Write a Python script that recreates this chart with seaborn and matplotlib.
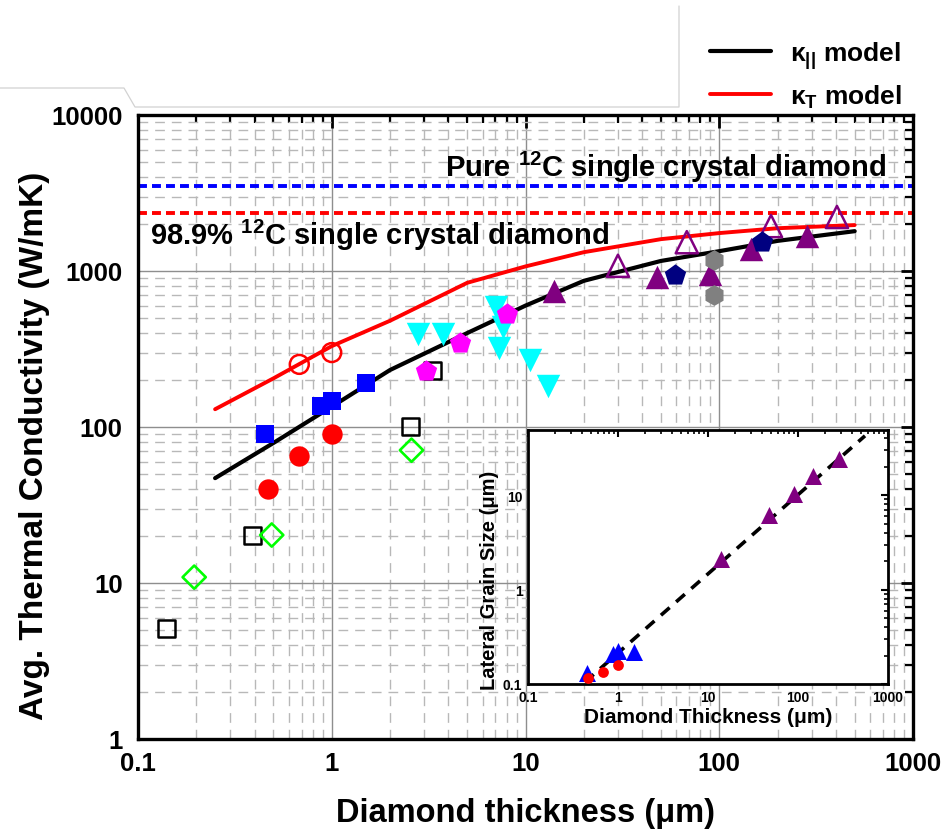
import matplotlib
matplotlib.use("Agg")
import matplotlib.pyplot as plt
from matplotlib.lines import Line2D
from matplotlib.ticker import LogLocator, NullFormatter, FuncFormatter
import seaborn as sns

# ---------------- data ----------------
# model curves: average thermal conductivity vs. diamond thickness
model_thickness = [0.25, 0.5, 1, 2, 5, 10, 20, 50, 100, 200, 500]
kappa_parallel = [47, 79, 135, 232, 400, 600, 865, 1160, 1340, 1560, 1800]
kappa_transverse = [130, 205, 330, 480, 840, 1070, 1320, 1600, 1750, 1880, 1970]

# single crystal reference values (W/mK)
pure_12c_kappa = 3500
natural_12c_kappa = 2350

# measured films
open_square_t = [0.14, 0.39, 2.55, 3.3]
open_square_k = [5.1, 20.3, 101, 230]

open_diamond_t = [0.195, 0.49, 2.58]
open_diamond_k = [10.9, 20.3, 71]

red_filled_t = [0.47, 0.68, 1.0]
red_filled_k = [40, 65, 90]

red_open_t = [0.68, 1.0]
red_open_k = [252, 300]

blue_square_t = [0.45, 0.88, 1.0, 1.5]
blue_square_k = [90, 136, 146, 192]

cyan_t = [2.8, 3.75, 7.06, 7.64, 7.26, 10.5, 13.0]
cyan_k = [395, 394, 588, 436, 320, 268, 184]

magenta_t = [3.08, 4.57, 8.0]
magenta_k = [228, 347, 528]

purple_filled_t = [14, 48, 90, 145, 285]
purple_filled_k = [748, 915, 957, 1384, 1675]

purple_open_t = [30, 68, 185, 405]
purple_open_k = [1080, 1530, 1940, 2220]

navy_t = [59, 167]
navy_k = [942, 1530]

gray_t = [94, 94]
gray_k = [1180, 702]

# inset: lateral grain size vs. thickness
grain_blue = [0.13, 0.21, 0.225, 0.22]
grain_red = [0.115, 0.133, 0.159]
grain_purple = [2.1, 6.1, 10.3, 15.8, 24.4]
fit_thickness = [0.43, 555]
fit_grain = [0.105, 42.5]

x_ticks = [0.1, 1, 10, 100, 1000]
y_ticks = [1, 10, 100, 1000, 10000]
inset_y_ticks = [0.1, 1, 10]

# ---------------- style ----------------
sns.set_theme(style="white")
plt.rcParams["font.family"] = ["Liberation Sans", "DejaVu Sans"]
plt.rcParams["font.weight"] = "bold"
plt.rcParams["axes.labelweight"] = "bold"
plt.rcParams["text.color"] = "black"
plt.rcParams["axes.labelcolor"] = "black"
plt.rcParams["xtick.color"] = "black"
plt.rcParams["ytick.color"] = "black"
plt.rcParams["mathtext.fontset"] = "custom"
plt.rcParams["mathtext.rm"] = "Liberation Sans:bold"
plt.rcParams["mathtext.it"] = "Liberation Sans:bold"
plt.rcParams["mathtext.bf"] = "Liberation Sans:bold"

W, H = 944, 837
fig = plt.figure(figsize=(W / 100, H / 100), dpi=100)
fig.patch.set_facecolor("white")


def fbox(x0, y0, x1, y1):
    return [x0 / W, 1 - y1 / H, (x1 - x0) / W, (y1 - y0) / H]


ax = fig.add_axes(fbox(138, 116, 913, 740))
ax.set_xscale("log")
ax.set_yscale("log")
ax.set_facecolor("white")
ax.set_axisbelow(True)

plain = FuncFormatter(lambda v, _: f"{v:g}")
for axis in (ax.xaxis, ax.yaxis):
    axis.set_minor_locator(LogLocator(base=10, subs=range(2, 10), numticks=20))
    axis.set_major_formatter(plain)
    axis.set_minor_formatter(NullFormatter())
ax.set_xticks(x_ticks)
ax.set_yticks(y_ticks)
ax.set_xlim(0.1, 1000)
ax.set_ylim(1, 10000)

ax.grid(which="major", color="#8e8e8e", lw=1.0, ls="-")
ax.grid(which="minor", color="#b8b8b8", lw=1.0, ls=(0, (7, 5)))

ax.tick_params(which="both", direction="in", top=True, right=True,
               colors="black", labelsize=18.5)
ax.tick_params(which="major", length=9, width=2.0)
ax.tick_params(which="minor", length=5.5, width=1.6)
ax.tick_params(axis="x", pad=9)
ax.tick_params(axis="y", pad=11)
for s in ax.spines.values():
    s.set_linewidth(2.4)
    s.set_color("black")

# reference lines
ax.axhline(pure_12c_kappa, color="#0000ff", lw=2.8, ls=(0, (2.3, 1.3)), zorder=2)
ax.axhline(natural_12c_kappa, color="#ff0000", lw=2.8, ls=(0, (2.3, 1.3)), zorder=2)

# model curves
sns.lineplot(x=model_thickness, y=kappa_transverse, ax=ax, color="#ff0000",
             lw=2.8, label=r"κ$_{T}$ model", legend=False, zorder=2.5)
sns.lineplot(x=model_thickness, y=kappa_parallel, ax=ax, color="black",
             lw=3.0, label=r"κ$_{||}$ model", legend=False, zorder=2.5)


def points(axis, x, y, marker, size, color, filled=True, lw=1.6, z=3):
    if filled:
        sns.scatterplot(x=x, y=y, ax=axis, marker=marker, s=size, color=color,
                        edgecolor=color, linewidth=0, legend=False, zorder=z)
    else:
        sns.scatterplot(x=x, y=y, ax=axis, marker=marker, s=size, color=color,
                        facecolor="none", edgecolor=color, linewidth=lw,
                        legend=False, zorder=z)


points(ax, open_square_t, open_square_k, "s", 150, "black", filled=False, lw=1.8)
points(ax, open_diamond_t, open_diamond_k, "D", 140, "#00ff00", filled=False, lw=1.9)
points(ax, red_filled_t, red_filled_k, "o", 215, "#ff0000")
points(ax, red_open_t, red_open_k, "o", 185, "#ff0000", filled=False, lw=1.8)
points(ax, blue_square_t, blue_square_k, "s", 170, "#0000ff")
points(ax, cyan_t, cyan_k, "v", 285, "#00ffff")
points(ax, magenta_t, magenta_k, "p", 260, "#ff00ff")
points(ax, purple_filled_t, purple_filled_k, "^", 285, "#800080")
points(ax, purple_open_t, purple_open_k, "^", 255, "#800080", filled=False, lw=1.8)
points(ax, navy_t, navy_k, "p", 260, "#000080")
points(ax, gray_t, gray_k, "h", 225, "#808080")

ax.text(0.396, 0.902, r"Pure $^{12}$C single crystal diamond",
        transform=ax.transAxes, fontsize=21, fontweight="bold",
        ha="left", va="baseline", zorder=4)
ax.text(0.0155, 0.793, r"98.9% $^{12}$C single crystal diamond",
        transform=ax.transAxes, fontsize=21, fontweight="bold",
        ha="left", va="baseline", zorder=4)

ax.set_xlabel("Diamond thickness (μm)", fontsize=23.5, fontweight="bold")
ax.set_ylabel("Avg. Thermal Conductivity (W/mK)", fontsize=24, fontweight="bold")
ax.xaxis.set_label_coords(0.5, -0.093)
ax.yaxis.set_label_coords(-0.113, 0.472)

# legend for the model curves, above the plot
handles, labels = ax.get_legend_handles_labels()
order = [labels.index(r"κ$_{||}$ model"), labels.index(r"κ$_{T}$ model")]
fig.legend([handles[i] for i in order], [labels[i] for i in order],
           loc="upper left", bbox_to_anchor=(710 / W, 1 - 40 / H),
           frameon=False, fontsize=19, handlelength=2.3, handletextpad=0.75,
           labelspacing=0.45, borderpad=0, borderaxespad=0)

# light frame lines around the header area
frame_x = [0, 124, 135, 679, 679]
frame_y = [89, 89, 108, 108, 7]
fig.add_artist(Line2D([v / W for v in frame_x], [1 - v / H for v in frame_y],
                      transform=fig.transFigure, color="#d2d2d2", lw=0.9))

# ---------------- inset ----------------
ax2 = fig.add_axes(fbox(528, 431, 888, 685))
ax2.set_xscale("log")
ax2.set_yscale("log")
ax2.set_facecolor("white")
ax2.grid(False)
for axis in (ax2.xaxis, ax2.yaxis):
    axis.set_minor_locator(LogLocator(base=10, subs=range(2, 10), numticks=20))
    axis.set_minor_formatter(NullFormatter())
    axis.set_major_formatter(plain)
ax2.set_xticks(x_ticks)
ax2.set_yticks(inset_y_ticks)
ax2.set_xlim(0.1, 1000)
ax2.set_ylim(0.1, 49)
ax2.tick_params(which="both", direction="in", top=True, right=True,
                colors="black", labelsize=10, pad=4)
ax2.tick_params(which="major", length=5, width=1.5)
ax2.tick_params(which="minor", length=3, width=1.2)
for s in ax2.spines.values():
    s.set_linewidth(2.0)
    s.set_color("black")

sns.lineplot(x=fit_thickness, y=fit_grain, ax=ax2, color="black", lw=2.6,
             ls=(0, (3.2, 2.4)), legend=False, zorder=2)
points(ax2, blue_square_t, grain_blue, "^", 150, "#0000ff")
points(ax2, red_filled_t, grain_red, "o", 60, "#ff0000")
points(ax2, purple_filled_t, grain_purple, "^", 150, "#800080")

ax2.set_xlabel("Diamond Thickness (μm)", fontsize=15, fontweight="bold")
ax2.set_ylabel("Lateral Grain Size (μm)", fontsize=14.5, fontweight="bold")
ax2.xaxis.set_label_coords(0.5, -0.09)
ax2.yaxis.set_label_coords(-0.08, 0.41)

fig.savefig("out.png", dpi=100, facecolor="white")
